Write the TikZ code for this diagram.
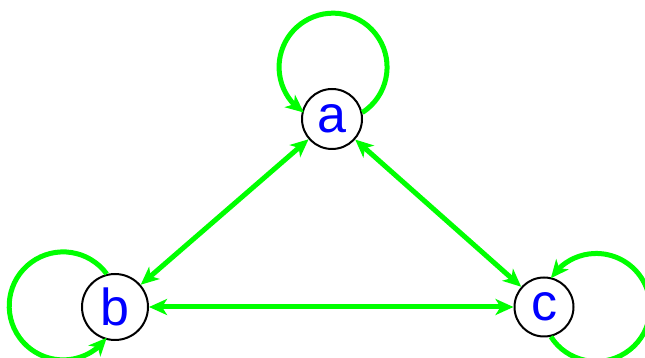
\documentclass[tikz,border=0pt]{standalone}
\usepackage{fontspec}
\setmainfont{Liberation Sans}
\usetikzlibrary{arrows.meta,bending}
\definecolor{edgegreen}{RGB}{0,255,0}
\definecolor{lblue}{RGB}{0,0,255}
\tikzset{
  tipx/.tip={Stealth[length=18pt,width=16pt,inset=5pt]},
  vert/.style={circle, draw=black, line width=2pt, fill=white, inner sep=0pt,
    text=lblue, font=\fontsize{52}{52}\selectfont},
  conn/.style={draw=edgegreen, line width=5pt, tipx-tipx},
  selfloop/.style={draw=edgegreen, line width=5pt, -tipx}
}
\begin{document}
\begin{tikzpicture}[x=1pt,y=1pt]
\useasboundingbox (0,0) rectangle (645,358);
\node[vert, minimum size=60pt] (a) at (332,239) {a};
\node[vert, minimum size=66pt] (b) at (115,51) {b};
\node[vert, minimum size=59pt] (c) at (544,51) {c};
\draw[conn] (a) -- (b);
\draw[conn] (a) -- (c);
\draw[conn] (b) -- (c);
\draw[selfloop] (a.12.7) arc[start angle=-57.2, end angle=237.2, radius=54];
\draw[selfloop] (b.104.8) arc[start angle=36.2, end angle=323.8, radius=54];
\draw[selfloop] (c.-77.3) arc[start angle=212.8, end angle=507.2, radius=54];
\end{tikzpicture}
\end{document}
